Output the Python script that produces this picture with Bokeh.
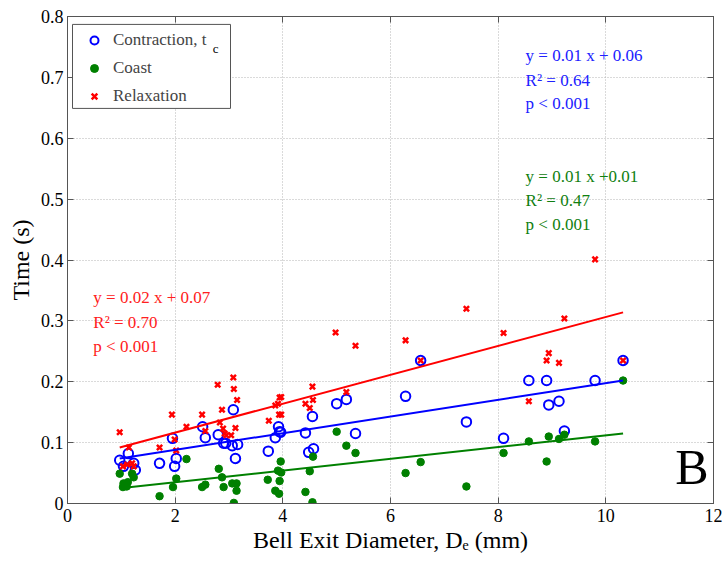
import numpy as np
from bokeh.plotting import figure
from bokeh.models import Range1d, LinearAxis, FixedTicker, Label, Legend, LegendItem, BoxAnnotation
from bokeh.embed import file_html
from bokeh.resources import INLINE

# ---------------- data ----------------
contraction_x = [0.97, 1.04, 1.13, 1.23, 1.26, 1.71, 1.95, 1.99, 2.02, 2.51, 2.56, 2.80, 2.90, 2.94,
                 3.06, 3.08, 3.12, 3.16, 3.73, 3.86, 3.92, 3.94, 3.96, 4.42, 4.48, 4.55, 4.57, 5.00,
                 5.18, 5.35, 6.28, 6.56, 7.41, 8.10, 8.57, 8.90, 8.94, 9.13, 9.23, 9.80, 10.32]
contraction_y = [0.071, 0.061, 0.082, 0.066, 0.055, 0.066, 0.107, 0.061, 0.074, 0.126, 0.108, 0.113,
                 0.099, 0.099, 0.095, 0.154, 0.074, 0.097, 0.086, 0.108, 0.126, 0.118, 0.117, 0.116,
                 0.084, 0.143, 0.090, 0.164, 0.171, 0.115, 0.176, 0.235, 0.134, 0.107, 0.202, 0.202,
                 0.162, 0.168, 0.119, 0.202, 0.235]

coast_x = [0.97, 1.03, 1.04, 1.10, 1.12, 1.20, 1.23, 1.71, 1.96, 2.02, 2.21, 2.50, 2.56, 2.81, 2.87,
           2.90, 3.06, 3.09, 3.14, 3.14, 3.72, 3.86, 3.91, 3.93, 3.94, 3.96, 3.97, 4.42, 4.50, 4.55,
           4.56, 5.00, 5.18, 5.35, 6.28, 6.56, 7.41, 8.10, 8.57, 8.90, 8.94, 9.13, 9.23, 9.80, 10.32]
coast_y = [0.049, 0.027, 0.033, 0.028, 0.035, 0.049, 0.043, 0.012, 0.027, 0.041, 0.073, 0.027, 0.031,
           0.057, 0.043, 0.027, 0.033, 0.001, 0.033, 0.021, 0.039, 0.021, 0.054, 0.016, 0.037, 0.069,
           0.051, 0.019, 0.053, 0.002, 0.077, 0.118, 0.095, 0.083, 0.050, 0.068, 0.028, 0.083, 0.102,
           0.069, 0.110, 0.106, 0.113, 0.102, 0.202]

relax_x = [0.97, 1.03, 1.11, 1.14, 1.20, 1.23, 1.71, 1.94, 1.99, 2.02, 2.21, 2.50, 2.56, 2.79, 2.83,
           2.87, 2.89, 2.92, 2.95, 3.04, 3.08, 3.09, 3.12, 3.15, 3.74, 3.86, 3.91, 3.93, 3.94, 3.97,
           3.97, 4.42, 4.50, 4.55, 4.56, 4.98, 5.18, 5.35, 6.28, 6.56, 7.41, 8.10, 8.57, 8.90, 8.94,
           9.13, 9.23, 9.80, 10.32]
relax_y = [0.117, 0.061, 0.064, 0.092, 0.066, 0.061, 0.092, 0.146, 0.105, 0.087, 0.126, 0.146, 0.119,
           0.195, 0.133, 0.154, 0.123, 0.115, 0.112, 0.112, 0.207, 0.188, 0.124, 0.170, 0.136, 0.161,
           0.164, 0.146, 0.174, 0.175, 0.146, 0.164, 0.157, 0.192, 0.170, 0.281, 0.183, 0.259, 0.268,
           0.235, 0.320, 0.280, 0.168, 0.235, 0.247, 0.231, 0.304, 0.401, 0.235]

# linear fits (slope, intercept) as drawn
fit_contraction = (0.0137, 0.0607)
fit_coast = (0.00963, 0.0157)
fit_relax = (0.02374, 0.069)

x_ticks = [0, 2, 4, 6, 8, 10, 12]
x_tick_labels = ["0", "2", "4", "6", "8", "10", "12"]
y_ticks = [0, 0.1, 0.2, 0.3, 0.4, 0.5, 0.6, 0.7, 0.8]
y_tick_labels = ["0", "0.1", "0.2", "0.3", "0.4", "0.5", "0.6", "0.7", "0.8"]

FONT = "Liberation Serif"
AX = "#555555"
BLUE = "#0000ff"
GREEN = "#008000"
RED = "#ff0000"

p = figure(frame_width=646, frame_height=487, x_range=Range1d(0, 12), y_range=Range1d(0, 0.8),
           output_backend="svg", toolbar_location=None,
           min_border_left=67, min_border_right=10, min_border_top=16, min_border_bottom=50)
p.background_fill_color = "white"
p.border_fill_color = "white"
p.outline_line_color = AX
p.outline_line_width = 1

for ax, ticks, labels in ((p.xaxis[0], x_ticks, x_tick_labels), (p.yaxis[0], y_ticks, y_tick_labels)):
    ax.ticker = FixedTicker(ticks=ticks)
    ax.major_label_overrides = {t: l for t, l in zip(ticks, labels)}
    ax.major_label_text_font = FONT
    ax.major_label_text_font_size = "18px"
    ax.major_label_text_color = "black"
    ax.axis_label_text_font = FONT
    ax.axis_label_text_font_size = "24px"
    ax.axis_label_text_font_style = "normal"
    ax.axis_label_text_color = "black"
    ax.axis_line_color = AX
    ax.major_tick_line_color = AX
    ax.major_tick_in = 6
    ax.major_tick_out = 0
    ax.minor_tick_line_color = None

p.xaxis[0].axis_label = "Bell Exit Diameter, D\u2091 (mm)"
p.yaxis[0].axis_label = "Time (s)"
p.xaxis[0].major_label_standoff = 5
p.xaxis[0].axis_label_standoff = 2
p.yaxis[0].major_label_standoff = 4
p.yaxis[0].axis_label_standoff = 4

# mirror ticks on top and right (labels not drawn)
for loc, ticks in (("above", x_ticks), ("right", y_ticks)):
    a = LinearAxis(ticker=FixedTicker(ticks=ticks), major_label_text_color=None,
                   major_label_text_font_size="1px",
                   major_label_standoff=0, major_tick_in=6, major_tick_out=0,
                   minor_tick_line_color=None, axis_line_color=AX, major_tick_line_color=AX)
    p.add_layout(a, loc)

p.xgrid.ticker = FixedTicker(ticks=x_ticks)
p.ygrid.ticker = FixedTicker(ticks=y_ticks)
p.grid.grid_line_color = "#b4b4b4"
p.grid.grid_line_dash = "1 2"
p.grid.grid_line_width = 1

r_c = p.scatter(contraction_x, contraction_y, marker="circle", size=9.5, fill_color=None,
                line_color=BLUE, line_width=2)
r_g = p.scatter(coast_x, coast_y, marker="circle", size=7.5, fill_color=GREEN, line_color=GREEN)
r_r = p.scatter(relax_x, relax_y, marker="x", size=7.5, line_color=RED, line_width=2.5)

for xs, (m, b), col in ((relax_x, fit_relax, RED), (contraction_x, fit_contraction, BLUE),
                        (coast_x, fit_coast, GREEN)):
    lx = np.array([min(xs), max(xs)])
    p.line(lx, m * lx + b, line_color=col, line_width=2)

# legend frame (white box) drawn beneath a transparent legend
p.add_layout(BoxAnnotation(left=0.093, right=3.028, top=0.787, bottom=0.649,
                           fill_color="white", fill_alpha=1, line_color=AX, line_width=1,
                           line_alpha=1))

legend = Legend(items=[LegendItem(label="Contraction, t", renderers=[r_c]),
                       LegendItem(label="Coast", renderers=[r_g]),
                       LegendItem(label="Relaxation", renderers=[r_r])],
                location="top_left", margin=14, padding=6, spacing=8,
                glyph_width=26, glyph_height=20, label_height=20, label_standoff=6,
                label_text_font=FONT, label_text_font_size="17px",
                border_line_color=None, background_fill_alpha=0)
p.add_layout(legend)

p.add_layout(Label(x=2.70, y=0.747, text="c", text_font=FONT, text_font_size="13px",
                   text_color="black", text_baseline="middle"))

def add_block(lines, x, ys, color):
    for t, y in zip(lines, ys):
        p.add_layout(Label(x=x, y=y, text=t, text_font=FONT, text_font_size="17px",
                           text_color=color, text_baseline="middle"))

add_block(["y = 0.01 x + 0.06", "R\u00b2 = 0.64", "p < 0.001"], 8.51, [0.736, 0.695, 0.657], "#2020ff")
add_block(["y = 0.01 x +0.01", "R\u00b2 = 0.47", "p < 0.001"], 8.51, [0.537, 0.4975, 0.458], "#108010")
add_block(["y = 0.02 x + 0.07", "R\u00b2 = 0.70", "p < 0.001"], 0.48, [0.338, 0.297, 0.258], "#ff2020")

p.add_layout(Label(x=11.29, y=0.06, text="B", text_font=FONT, text_font_size="50px",
                   text_color="black", text_baseline="middle"))

open("out.html", "w").write(file_html(p, INLINE))
